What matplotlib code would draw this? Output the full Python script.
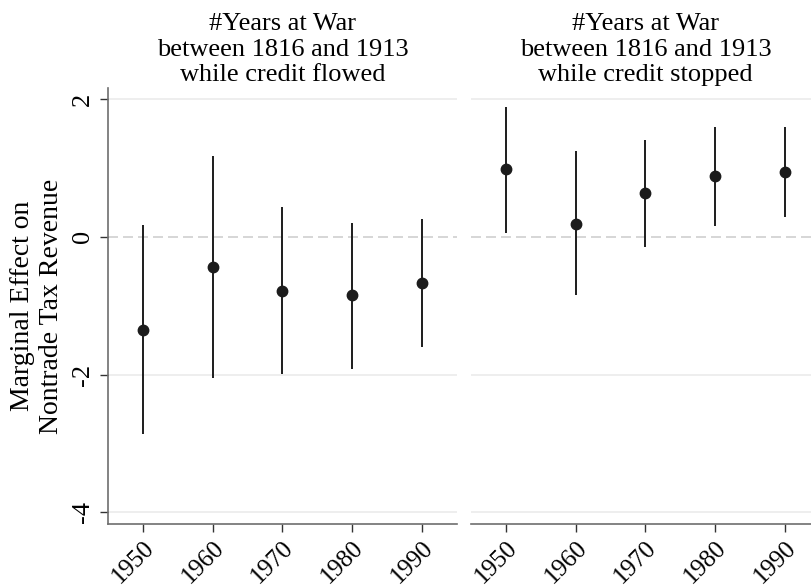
import matplotlib
matplotlib.use("Agg")
import matplotlib.pyplot as plt
import numpy as np

plt.rcParams['font.family'] = ['Liberation Serif', 'DejaVu Serif']

years = [1950, 1960, 1970, 1980, 1990]

# credit flowed
flow_est = [-1.35, -0.44, -0.78, -0.85, -0.67]
flow_lo = [-2.87, -2.05, -1.99, -1.92, -1.60]
flow_hi = [0.17, 1.18, 0.43, 0.20, 0.26]

# credit stopped
stop_est = [0.98, 0.19, 0.63, 0.88, 0.94]
stop_lo = [0.06, -0.85, -0.15, 0.16, 0.29]
stop_hi = [1.89, 1.25, 1.41, 1.59, 1.59]

titles = ["#Years at War\nbetween 1816 and 1913\nwhile credit flowed",
          "#Years at War\nbetween 1816 and 1913\nwhile credit stopped"]
ylabel = "Marginal Effect on\nNontrade Tax Revenue"
yticks = [-4, -2, 0, 2]

fig = plt.figure(figsize=(8.12, 5.88), dpi=100)
w = 348.7 / 812
h = 436 / 588
b = 64 / 588
ax1 = fig.add_axes([108 / 812, b, w, h])
ax2 = fig.add_axes([471 / 812, b, w, h], sharey=ax1)

fs = 19
spine_col = '#6e6e6e'
for ax, est, lo, hi, title in [(ax1, flow_est, flow_lo, flow_hi, titles[0]),
                               (ax2, stop_est, stop_lo, stop_hi, titles[1])]:
    for yv in [-4, -2, 2]:
        ax.axhline(yv, color='#ebebeb', lw=1.2, zorder=0)
    ax.axhline(0, color='#cfcfcf', lw=1.2, ls=(0, (6, 3)), zorder=0)
    ax.vlines(years, lo, hi, color='#1c1c1c', lw=1.4, zorder=2)
    ax.plot(years, est, 'o', color='#1c1c1c', ms=7.5, zorder=3)
    ax.set_xlim(1945, 1995)
    ax.set_ylim(-4.17, 2.16)
    ax.set_xticks(years)
    ax.set_xticklabels([str(y) for y in years], rotation=45, ha='right',
                       rotation_mode='anchor', fontsize=18)
    ax.set_title(title, fontsize=fs, pad=5, linespacing=1.2)
    for s in ['top', 'right']:
        ax.spines[s].set_visible(False)
    ax.spines['bottom'].set_color(spine_col)
    ax.spines['left'].set_color(spine_col)
    ax.spines['bottom'].set_linewidth(1.2)
    ax.spines['left'].set_linewidth(1.2)
    ax.tick_params(axis='x', length=6, width=1.0, color='#333333', pad=3)

ax1.set_yticks(yticks)
ax1.set_yticklabels([str(t) for t in yticks], rotation=90, va='center', fontsize=fs)
ax1.tick_params(axis='y', length=6, width=1.0, color='#333333', pad=4)
ax1.set_ylabel(ylabel, fontsize=20, labelpad=6, linespacing=1.2)

ax2.spines['left'].set_visible(False)
ax2.tick_params(axis='y', left=False, labelleft=False)

fig.savefig("out.png", dpi=100)
